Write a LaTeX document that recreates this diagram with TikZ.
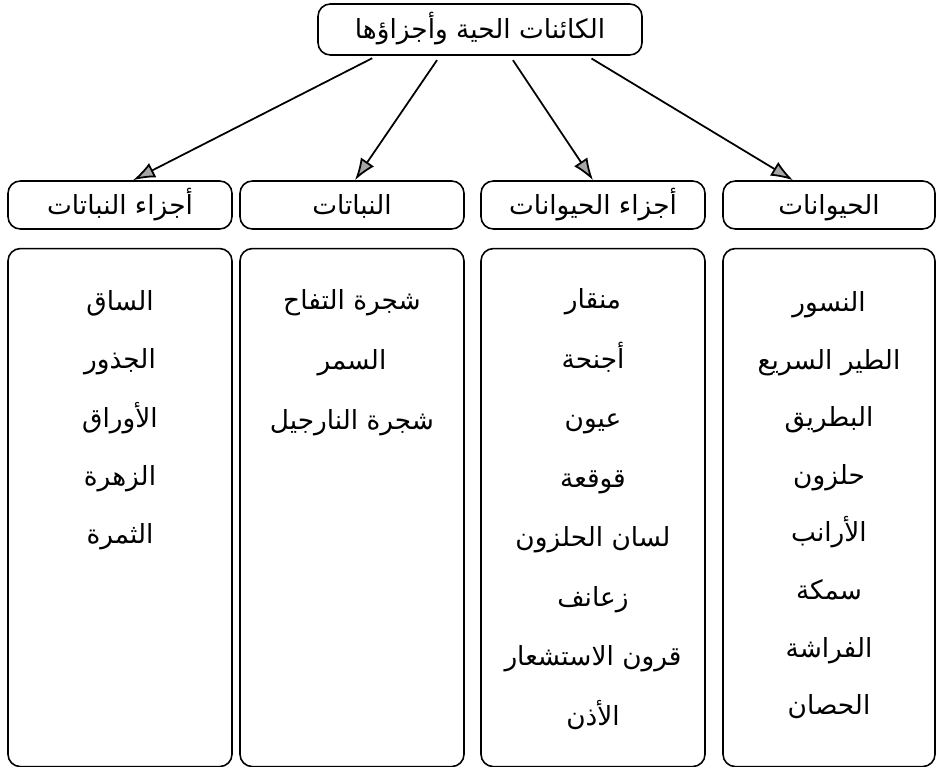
\documentclass[tikz,border=0pt]{standalone}
\usepackage{fontspec}
\newfontfamily\arabicfont[Script=Arabic]{DejaVu Sans}
\TeXXeTstate=1
\newcommand{\artxt}[1]{{\arabicfont\beginR #1\endR}}
\usetikzlibrary{arrows.meta,positioning}
\tikzset{
  box/.style={draw,rectangle,rounded corners=7pt,line width=0.9pt,inner sep=0pt},
  topblk/.style={box,minimum width=6.48cm,minimum height=1.02cm,text height=0.5cm,text depth=0.12cm,font=\fontsize{15}{18}\selectfont},
  hdrblk/.style={box,minimum width=4.48cm,minimum height=0.96cm,text height=0.5cm,text depth=0.12cm,font=\fontsize{15}{18}\selectfont},
  lstblk/.style={box,minimum width=4.48cm,minimum height=10.36cm},
  item/.style={font=\fontsize{15}{18}\selectfont,inner sep=1pt,text height=0.5cm,text depth=0.12cm},
  arr/.style={-{Latex[length=0.44cm,width=0.32cm,fill=gray!70]},line width=1pt,shorten <=3pt}
}

\begin{document}
\begin{tikzpicture}
  \useasboundingbox (0,0) rectangle (18.74,-15.34);
  % Root
  \node[topblk] (top) at (9.6,-0.59) {\artxt{الكائنات الحية وأجزاؤها}};

  % Headers
  \node[hdrblk] (hA) at (2.4,-4.1) {\artxt{أجزاء النباتات}};
  \node[hdrblk] (hB) at (7.04,-4.1) {\artxt{النباتات}};
  \node[hdrblk] (hC) at (11.86,-4.1) {\artxt{أجزاء الحيوانات}};
  \node[hdrblk, minimum width=4.24cm] (hD) at (16.58,-4.1) {\artxt{الحيوانات}};

  % Lists
  \node[lstblk, below=0.36cm of hA] (lA) {};
  \node[lstblk, below=0.36cm of hB] (lB) {};
  \node[lstblk, below=0.36cm of hC] (lC) {};
  \node[lstblk, minimum width=4.24cm, below=0.36cm of hD] (lD) {};

  % Arrows
  \draw[arr] ([xshift=-2.06cm]top.south) -- ([xshift=0.26cm]hA.north);
  \draw[arr] ([xshift=-0.8cm]top.south) -- ([xshift=0.06cm]hB.north);
  \draw[arr] ([xshift=0.6cm]top.south) -- (hC.north);
  \draw[arr] ([xshift=2.14cm]top.south) -- ([xshift=-0.72cm]hD.north);

  % Items
  \foreach \t [count=\i] in {الساق, الجذور, الأوراق, الزهرة, الثمرة}
    \node[item] (pp\i) at (2.4,-6.02-1.165*\i+1.165) {\artxt{\t}};
  \foreach \t [count=\i] in {شجرة التفاح, السمر, شجرة النارجيل}
    \node[item] (pl\i) at (7.04,-6.0-1.2*\i+1.2) {\artxt{\t}};
  \foreach \t [count=\i] in {منقار, أجنحة, عيون, قوقعة, لسان الحلزون, زعانف, قرون الاستشعار, الأذن}
    \node[item] (ap\i) at (11.86,-5.98-1.19*\i+1.19) {\artxt{\t}};
  \foreach \t [count=\i] in {النسور, الطير السريع, البطريق, حلزون, الأرانب, سمكة, الفراشة, الحصان}
    \node[item] (an\i) at (16.58,-6.04-1.152*\i+1.152) {\artxt{\t}};
\end{tikzpicture}
\end{document}
